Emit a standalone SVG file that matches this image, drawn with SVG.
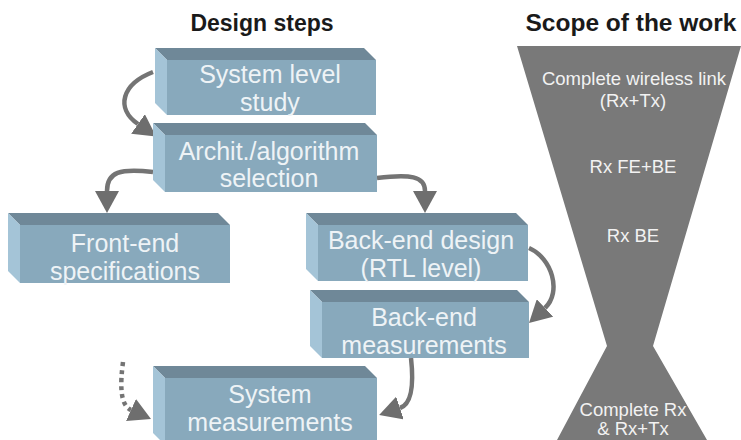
<svg xmlns="http://www.w3.org/2000/svg" width="741" height="440" viewBox="0 0 741 440">
<style>
.front{fill:#88a9bc}
.top{fill:#6f8898}
.side{fill:#a4c4d7}
.bt{font-family:"Liberation Sans",Arial,sans-serif;font-size:25px;fill:#eef3f6;text-anchor:middle}
.title{font-family:"Liberation Sans",Arial,sans-serif;font-size:23px;font-weight:bold;fill:#1a1a1a;text-anchor:middle}
.ht{font-family:"Liberation Sans",Arial,sans-serif;font-size:18.5px;fill:#f2f2f2;text-anchor:middle}
.conn{fill:none;stroke:#747474;stroke-width:4.5}
.dot{stroke-dasharray:4 4}
</style>
<defs>
<marker id="ah" viewBox="0 0 22 24" markerWidth="22" markerHeight="24" refX="0" refY="12" markerUnits="userSpaceOnUse" orient="auto">
<path d="M0,0 L22,12 L0,24 z" fill="#6e6e6e"/>
</marker>
</defs>
<rect width="741" height="440" fill="#ffffff"/>
<text class="title" x="262" y="31">Design steps</text>
<text class="title" x="631" y="31" style="font-size:24.5px">Scope of the work</text>

<g id="scope">
<polygon points="517,46 741,46 653,346 707,440 557,440 607,346" fill="#797979"/>
<text class="ht" x="634" y="85">Complete wireless link</text>
<text class="ht" x="633" y="107">(Rx+Tx)</text>
<text class="ht" x="633" y="173">Rx FE+BE</text>
<text class="ht" x="633" y="242">Rx BE</text>
<text class="ht" x="633" y="416">Complete Rx</text>
<text class="ht" x="633" y="435">&amp; Rx+Tx</text>
</g>

<g id="connectors">
<path class="conn" d="M153,72 C122,84 115,108 138,124" marker-end="url(#ah)"/>
<path class="conn" d="M153,172 C120,168 107,172 107,191" marker-end="url(#ah)"/>
<path class="conn" d="M377,178 C410,174 425,176 425,191" marker-end="url(#ah)"/>
<path class="conn" d="M529,248 C552,258 562,292 545,308" marker-end="url(#ah)"/>
<path class="conn" d="M411,358 C414,385 412,404 400,408" marker-end="url(#ah)"/>
<path class="conn dot" d="M123,362 C120,385 120,405 131,410" marker-end="url(#ah)"/>
</g>

<g id="system-level-study">
<polygon class="top" points="155,48 364,48 376,60 167,60"/>
<polygon class="side" points="155,48 167,60 167,115 155,103"/>
<rect class="front" x="167" y="60" width="209" height="55"/>
<text class="bt" x="270" y="83">System level</text>
<text class="bt" x="270" y="111">study</text>
</g>

<g id="archit-selection">
<polygon class="top" points="153,123 365,123 377,135 165,135"/>
<polygon class="side" points="153,123 165,135 165,192 153,180"/>
<rect class="front" x="165" y="135" width="212" height="57"/>
<text class="bt" x="269" y="160">Archit./algorithm</text>
<text class="bt" x="269" y="187">selection</text>
</g>

<g id="front-end-specifications">
<polygon class="top" points="8,213 218,213 230,225 20,225"/>
<polygon class="side" points="8,213 20,225 20,283 8,271"/>
<rect class="front" x="20" y="225" width="210" height="58"/>
<text class="bt" x="125" y="252">Front-end</text>
<text class="bt" x="125" y="280">specifications</text>
</g>

<g id="back-end-design">
<polygon class="top" points="306,213 516,213 528,225 318,225"/>
<polygon class="side" points="306,213 318,225 318,281 306,269"/>
<rect class="front" x="318" y="225" width="210" height="56"/>
<text class="bt" x="421" y="249">Back-end design</text>
<text class="bt" x="421" y="277">(RTL level)</text>
</g>

<g id="back-end-measurements">
<polygon class="top" points="310,290 517,290 529,302 322,302"/>
<polygon class="side" points="310,290 322,302 322,358 310,346"/>
<rect class="front" x="322" y="302" width="207" height="56"/>
<text class="bt" x="424" y="326">Back-end</text>
<text class="bt" x="424" y="354">measurements</text>
</g>

<g id="system-measurements">
<polygon class="top" points="153,366 365,366 377,378 165,378"/>
<polygon class="side" points="153,366 165,378 165,445 153,433"/>
<rect class="front" x="165" y="378" width="212" height="67"/>
<text class="bt" x="270" y="403">System</text>
<text class="bt" x="270" y="431">measurements</text>
</g>
</svg>
